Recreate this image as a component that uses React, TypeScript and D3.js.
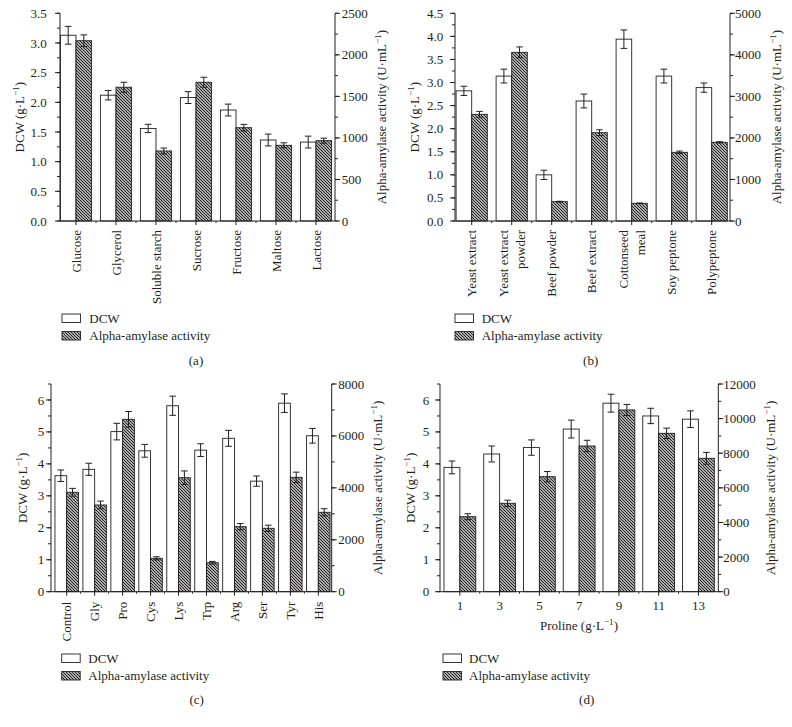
import React from 'react';
import * as d3 from 'd3';

const FONT = '"Liberation Serif", "Times New Roman", serif';
const INK = '#231f20';

// ---------- Panel (a): carbon sources ----------
const carbonSources = ['Glucose', 'Glycerol', 'Soluble starch', 'Sucrose', 'Fructose', 'Maltose', 'Lactose'];
const carbonDCW = [3.13, 2.12, 1.56, 2.08, 1.87, 1.365, 1.33];
const carbonDCWErr = [0.15, 0.08, 0.07, 0.1, 0.1, 0.1, 0.1];
const carbonAmylase = [2170, 1610, 843, 1670, 1123, 911, 967];
const carbonAmylaseErr = [70, 60, 35, 60, 40, 30, 30];
const ticksLeftA = [0, 0.5, 1, 1.5, 2, 2.5, 3, 3.5];
const ticksRightA = [0, 500, 1000, 1500, 2000, 2500];

// ---------- Panel (b): nitrogen sources ----------
const nitrogenSources = ['Yeast extract', 'Yeast extract|powder', 'Beef powder', 'Beef extract', 'Cottonseed|meal', 'Soy peptone', 'Polypeptone'];
const nitrogenDCW = [2.82, 3.14, 1.0, 2.6, 3.94, 3.14, 2.89];
const nitrogenDCWErr = [0.1, 0.15, 0.1, 0.15, 0.2, 0.15, 0.1];
const nitrogenAmylase = [2568, 4060, 465, 2126, 425, 1653, 1894];
const nitrogenAmylaseErr = [70, 130, 10, 70, 8, 30, 15];
const ticksLeftB = [0, 0.5, 1, 1.5, 2, 2.5, 3, 3.5, 4, 4.5];
const ticksRightB = [0, 1000, 2000, 3000, 4000, 5000];

// ---------- Panel (c): amino acids ----------
const aminoAcids = ['Control', 'Gly', 'Pro', 'Cys', 'Lys', 'Trp', 'Arg', 'Ser', 'Tyr', 'His'];
const aminoDCW = [3.63, 3.83, 5.01, 4.41, 5.82, 4.43, 4.8, 3.46, 5.9, 4.88];
const aminoDCWErr = [0.18, 0.19, 0.26, 0.2, 0.3, 0.2, 0.25, 0.16, 0.29, 0.23];
const aminoAmylase = [3830, 3340, 6640, 1286, 4391, 1117, 2504, 2442, 4405, 3058];
const aminoAmylaseErr = [150, 150, 300, 60, 260, 50, 120, 120, 200, 140];
const ticksLeftC = [0, 1, 2, 3, 4, 5, 6];
const ticksRightC = [0, 2000, 4000, 6000, 8000];

// ---------- Panel (d): proline concentration ----------
const prolineLevels = [1, 3, 5, 7, 9, 11, 13];
const prolineDCW = [3.89, 4.31, 4.51, 5.09, 5.9, 5.5, 5.4];
const prolineDCWErr = [0.2, 0.25, 0.24, 0.28, 0.28, 0.24, 0.26];
const prolineAmylase = [4333, 5108, 6645, 8419, 10499, 9150, 7708];
const prolineAmylaseErr = [170, 180, 300, 330, 320, 300, 340];
const ticksLeftD = [0, 1, 2, 3, 4, 5, 6];
const ticksRightD = [0, 2000, 4000, 6000, 8000, 10000, 12000];

type Cfg = {
  x0: number; x1: number; yTop: number; yBot: number;
  xDomain: [number, number];
  xPos: number[];
  xLabels: string[];
  rotated: boolean;
  xMinor: number[];
  barW: number;
  dcw: number[]; dcwErr: number[]; amy: number[]; amyErr: number[];
  leftMax: number; leftTicks: number[]; leftMinorStep: number; leftFmt: (v: number) => string;
  rightMax: number; rightTicks: number[]; rightMinorStep: number;
  leftLabelRight: number; rightLabelLeft: number;
  leftTitleX: number; rightTitleX: number;
  legendBoxX: number; legendTextX: number; legendTop: number;
  caption: string; captionX: number; captionY: number;
  xTitle?: boolean; xTitleX?: number; xTitleY?: number;
  labelGap: number;
};

function Sup({ base, size = 13 }: { base: string; size?: number }) {
  return (
    <>
      {base}
      <tspan dy={-5} fontSize={size * 0.7}>−1</tspan>
      <tspan dy={5} fontSize={size}>)</tspan>
    </>
  );
}

function Panel({ c }: { c: Cfg }) {
  const x = d3.scaleLinear().domain(c.xDomain).range([c.x0, c.x1]);
  const yL = d3.scaleLinear().domain([0, c.leftMax]).range([c.yBot, c.yTop]);
  const yR = d3.scaleLinear().domain([0, c.rightMax]).range([c.yBot, c.yTop]);
  const bw = x(c.barW) - x(0);
  const cap = 3.3;
  const leftMinor = d3.range(0, c.leftMax + 1e-9, c.leftMinorStep);
  const rightMinor = d3.range(0, c.rightMax + 1e-9, c.rightMinorStep);
  const cy = (c.yTop + c.yBot) / 2;

  return (
    <g fontFamily={FONT} fill={INK}>
      {/* bars */}
      {c.xPos.map((p, i) => {
        const cx = x(p);
        const yd = yL(c.dcw[i]);
        const ya = yR(c.amy[i]);
        const wc = cx - bw / 2;
        const hc = cx + bw / 2;
        const eT1 = yL(c.dcw[i] + c.dcwErr[i]);
        const eB1 = yL(c.dcw[i] - c.dcwErr[i]);
        const eT2 = yR(c.amy[i] + c.amyErr[i]);
        const eB2 = yR(c.amy[i] - c.amyErr[i]);
        return (
          <g key={i}>
            <rect x={cx - bw} y={yd} width={bw} height={c.yBot - yd} fill="#fff" stroke={INK} strokeWidth={0.9} />
            <rect x={cx} y={ya} width={bw} height={c.yBot - ya} fill="url(#hatch)" stroke={INK} strokeWidth={0.9} />
            <g stroke={INK} strokeWidth={1}>
              <line x1={wc} x2={wc} y1={eT1} y2={eB1} />
              <line x1={wc - cap} x2={wc + cap} y1={eT1} y2={eT1} />
              <line x1={wc - cap} x2={wc + cap} y1={eB1} y2={eB1} />
              <line x1={hc} x2={hc} y1={eT2} y2={eB2} />
              <line x1={hc - cap} x2={hc + cap} y1={eT2} y2={eT2} />
              <line x1={hc - cap} x2={hc + cap} y1={eB2} y2={eB2} />
            </g>
          </g>
        );
      })}

      {/* axes lines */}
      <g stroke={INK} strokeWidth={1} fill="none">
        <line x1={c.x0} x2={c.x0} y1={c.yTop} y2={c.yBot} />
        <line x1={c.x1} x2={c.x1} y1={c.yTop} y2={c.yBot} />
        <line x1={c.x0} x2={c.x1} y1={c.yBot} y2={c.yBot} />
        {leftMinor.map((v, i) => (
          <line key={'lm' + i} x1={c.x0 - 3} x2={c.x0} y1={yL(v)} y2={yL(v)} />
        ))}
        {c.leftTicks.map((v, i) => (
          <line key={'lt' + i} x1={c.x0 - 5} x2={c.x0} y1={yL(v)} y2={yL(v)} />
        ))}
        {rightMinor.map((v, i) => (
          <line key={'rm' + i} x1={c.x1} x2={c.x1 + 3} y1={yR(v)} y2={yR(v)} />
        ))}
        {c.rightTicks.map((v, i) => (
          <line key={'rt' + i} x1={c.x1} x2={c.x1 + 5} y1={yR(v)} y2={yR(v)} />
        ))}
        {c.xPos.map((p, i) => (
          <line key={'xt' + i} x1={x(p)} x2={x(p)} y1={c.yBot} y2={c.yBot + 4} />
        ))}
        {c.xMinor.map((p, i) => (
          <line key={'xm' + i} x1={x(p)} x2={x(p)} y1={c.yBot} y2={c.yBot + 2} />
        ))}
      </g>

      {/* tick labels */}
      <g fontSize={13}>
        {c.leftTicks.map((v, i) => (
          <text key={'ll' + i} x={c.leftLabelRight} y={yL(v)} dy="0.35em" textAnchor="end">{c.leftFmt(v)}</text>
        ))}
        {c.rightTicks.map((v, i) => (
          <text key={'rl' + i} x={c.rightLabelLeft} y={yR(v)} dy="0.35em" textAnchor="start">{v}</text>
        ))}
        {c.xPos.map((p, i) => {
          const lines = c.xLabels[i].split('|');
          if (!c.rotated) {
            return <text key={'xl' + i} x={x(p)} y={c.yBot + 18} textAnchor="middle">{lines[0]}</text>;
          }
          const ay = c.yBot + c.labelGap;
          return lines.map((ln, k) => {
            const off = (k - (lines.length - 1) / 2) * 16.5;
            return (
              <text key={'xl' + i + '_' + k} transform={`translate(${x(p) + off},${ay}) rotate(-90)`} dy="0.35em" textAnchor="end">{ln}</text>
            );
          });
        })}
      </g>

      {/* axis titles */}
      <text fontSize={13} transform={`translate(${c.leftTitleX},${cy}) rotate(-90)`} dy="0.35em" textAnchor="middle">
        <Sup base="DCW (g·L" />
      </text>
      <text fontSize={13} transform={`translate(${c.rightTitleX},${cy}) rotate(-90)`} dy="0.35em" textAnchor="middle">
        <Sup base="Alpha-amylase activity (U·mL" />
      </text>
      {c.xTitle && (
        <text fontSize={13} x={c.xTitleX} y={c.xTitleY} textAnchor="middle">
          <Sup base="Proline (g·L" />
        </text>
      )}

      {/* legend */}
      <g fontSize={13}>
        <rect x={c.legendBoxX} y={c.legendTop} width={18.5} height={8.5} fill="#fff" stroke={INK} strokeWidth={0.9} />
        <text x={c.legendTextX} y={c.legendTop + 8.7}>DCW</text>
        <rect x={c.legendBoxX} y={c.legendTop + 17.5} width={18.5} height={8.5} fill="url(#hatch)" stroke={INK} strokeWidth={0.9} />
        <text x={c.legendTextX} y={c.legendTop + 25.8}>Alpha-amylase activity</text>
        <text x={c.captionX} y={c.captionY} textAnchor="middle">{c.caption}</text>
      </g>
    </g>
  );
}

const fmt1 = (v: number) => d3.format('.1f')(v);
const fmt0 = (v: number) => String(v);

const panelA: Cfg = {
  x0: 60, x1: 335, yTop: 13.3, yBot: 221,
  xDomain: [-0.4, 6.475],
  xPos: carbonSources.map((_, i) => i),
  xLabels: carbonSources,
  rotated: true,
  xMinor: d3.range(0, carbonSources.length - 1).map((i) => i + 0.5),
  barW: 0.39,
  dcw: carbonDCW, dcwErr: carbonDCWErr, amy: carbonAmylase, amyErr: carbonAmylaseErr,
  leftMax: 3.5, leftTicks: ticksLeftA, leftMinorStep: 0.25, leftFmt: fmt1,
  rightMax: 2500, rightTicks: ticksRightA, rightMinorStep: 250,
  leftLabelRight: 46.7, rightLabelLeft: 341.7,
  leftTitleX: 19, rightTitleX: 381.7,
  legendBoxX: 62, legendTextX: 89.3, legendTop: 314,
  caption: '(a)', captionX: 196, captionY: 364.5,
  labelGap: 9,
};

const panelB: Cfg = {
  x0: 455, x1: 730, yTop: 13.3, yBot: 221,
  xDomain: [-0.4175, 6.4575],
  xPos: nitrogenSources.map((_, i) => i),
  xLabels: nitrogenSources,
  rotated: true,
  xMinor: d3.range(0, nitrogenSources.length - 1).map((i) => i + 0.5),
  barW: 0.39,
  dcw: nitrogenDCW, dcwErr: nitrogenDCWErr, amy: nitrogenAmylase, amyErr: nitrogenAmylaseErr,
  leftMax: 4.5, leftTicks: ticksLeftB, leftMinorStep: 0.25, leftFmt: fmt1,
  rightMax: 5000, rightTicks: ticksRightB, rightMinorStep: 500,
  leftLabelRight: 443.3, rightLabelLeft: 735,
  leftTitleX: 414, rightTitleX: 776.7,
  legendBoxX: 455, legendTextX: 481.7, legendTop: 314,
  caption: '(b)', captionX: 590.7, captionY: 364.5,
  labelGap: 9,
};

const panelC: Cfg = {
  x0: 51, x1: 331.7, yTop: 384, yBot: 591.7,
  xDomain: [-0.5615, 9.479],
  xPos: aminoAcids.map((_, i) => i),
  xLabels: aminoAcids,
  rotated: true,
  xMinor: d3.range(0, aminoAcids.length - 1).map((i) => i + 0.5),
  barW: 0.42,
  dcw: aminoDCW, dcwErr: aminoDCWErr, amy: aminoAmylase, amyErr: aminoAmylaseErr,
  leftMax: 6.5, leftTicks: ticksLeftC, leftMinorStep: 0.5, leftFmt: fmt0,
  rightMax: 8000, rightTicks: ticksRightC, rightMinorStep: 1000,
  leftLabelRight: 44.3, rightLabelLeft: 338.3,
  leftTitleX: 22.5, rightTitleX: 377.5,
  legendBoxX: 61.7, legendTextX: 88.3, legendTop: 654,
  caption: '(c)', captionX: 196.7, captionY: 704,
  labelGap: 10,
};

const panelD: Cfg = {
  x0: 440, x1: 718.3, yTop: 384, yBot: 591.7,
  xDomain: [0, 14],
  xPos: prolineLevels,
  xLabels: prolineLevels.map(String),
  rotated: false,
  xMinor: [2, 4, 6, 8, 10, 12],
  barW: 0.8,
  dcw: prolineDCW, dcwErr: prolineDCWErr, amy: prolineAmylase, amyErr: prolineAmylaseErr,
  leftMax: 6.5, leftTicks: ticksLeftD, leftMinorStep: 0.5, leftFmt: fmt0,
  rightMax: 12000, rightTicks: ticksRightD, rightMinorStep: 1000,
  leftLabelRight: 429.3, rightLabelLeft: 723.3,
  leftTitleX: 410.8, rightTitleX: 770.8,
  legendBoxX: 443, legendTextX: 469, legendTop: 654,
  caption: '(d)', captionX: 586.7, captionY: 704,
  xTitle: true, xTitleX: 579, xTitleY: 630,
  labelGap: 10,
};

export default function App() {
  return (
    <svg
      width={792}
      height={727}
      viewBox="0 0 792 727"
      style={{ position: 'absolute', left: 0, top: 0, background: '#fff' }}
    >
      <defs>
        <pattern id="hatch" patternUnits="userSpaceOnUse" width={3} height={3}>
          <rect width={3} height={3} fill="#a8a8a8" />
          <path d="M-1,-1 L4,4 M-1,2 L1,4 M2,-1 L4,1" stroke="#2a2a2a" strokeWidth={1} />
        </pattern>
      </defs>
      <rect width={792} height={727} fill="#fff" />
      <Panel c={panelA} />
      <Panel c={panelB} />
      <Panel c={panelC} />
      <Panel c={panelD} />
    </svg>
  );
}
